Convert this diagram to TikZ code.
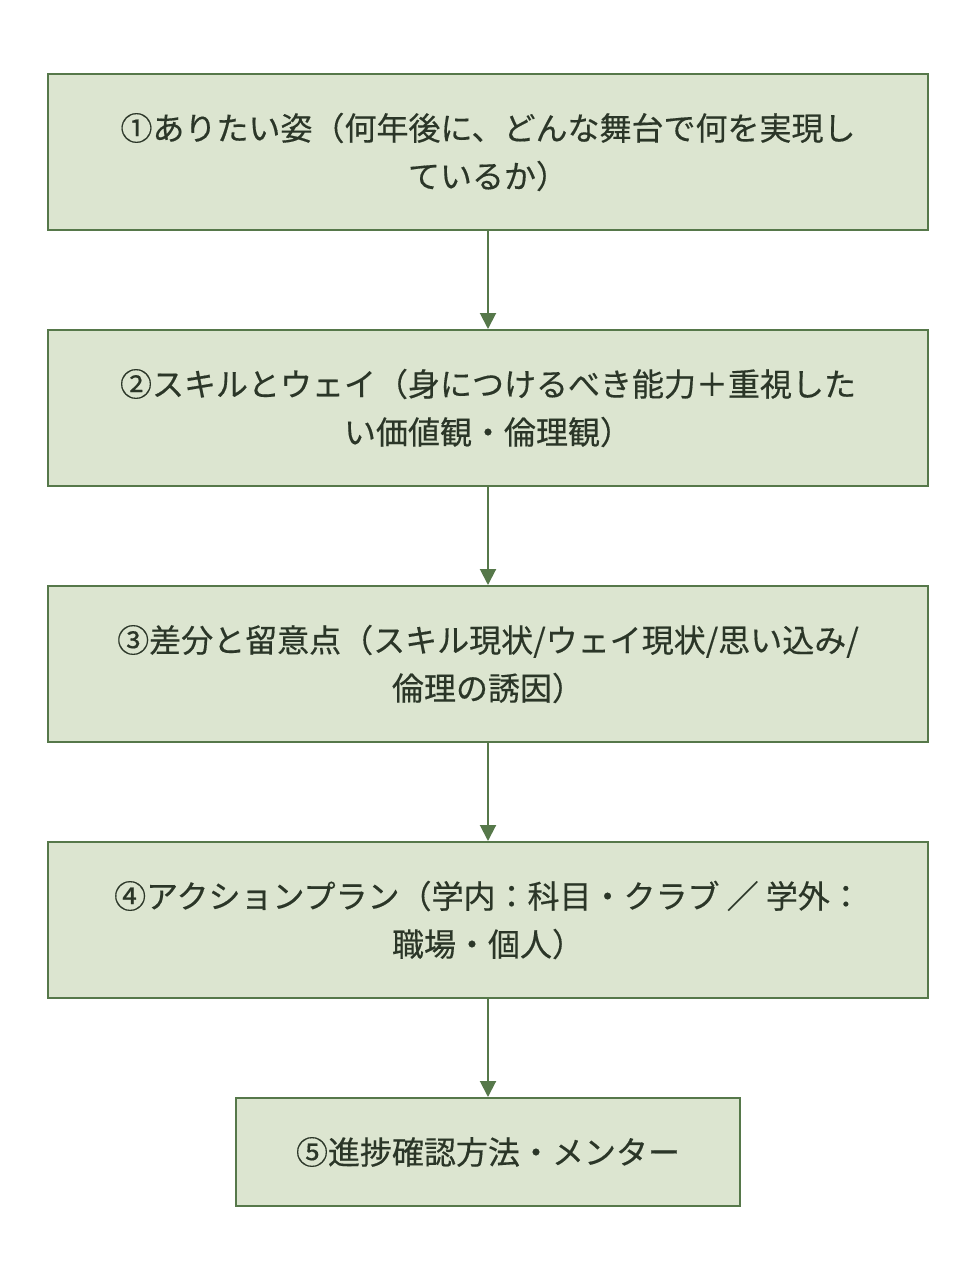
\documentclass[tikz,border=0pt]{standalone}
\usepackage{fontspec}
\setmainfont{Noto Sans CJK JP}[FakeBold=0.4]
\usetikzlibrary{arrows.meta}
\definecolor{boxfill}{HTML}{DCE5D0}
\definecolor{boxline}{HTML}{56784A}
\definecolor{txt}{HTML}{2B3628}
\begin{document}
\begin{tikzpicture}[x=1pt,y=-1pt,
  stepbox/.style={draw=boxline, fill=boxfill, line width=2pt, text=txt,
    minimum width=880pt, minimum height=156pt, align=center, inner sep=0pt,
    font=\fontsize{32}{48}\selectfont},
  flowarrow/.style={draw=boxline, line width=2pt, -{Triangle[width=16pt,length=16pt]}}]
\useasboundingbox (0,0) rectangle (976,1284);
\fill[white] (0,0) rectangle (976,1284);
\node[stepbox] (b1) at (488,152) {①ありたい姿（何年後に、どんな舞台で何を実現し\\ているか）};
\node[stepbox] (b2) at (488,408) {②スキルとウェイ（身につけるべき能力＋重視した\\い価値観・倫理観）};
\node[stepbox] (b3) at (488,664) {③差分と留意点（スキル現状/ウェイ現状/思い込み/\\倫理の誘因）};
\node[stepbox] (b4) at (488,920) {④アクションプラン（学内：科目・クラブ ／ 学外：\\職場・個人）};
\node[stepbox, minimum width=504pt, minimum height=108pt] (b5) at (488,1152) {⑤進捗確認方法・メンター};
\draw[flowarrow] (b1.south) -- (b2.north);
\draw[flowarrow] (b2.south) -- (b3.north);
\draw[flowarrow] (b3.south) -- (b4.north);
\draw[flowarrow] (b4.south) -- (b5.north);
\end{tikzpicture}
\end{document}
